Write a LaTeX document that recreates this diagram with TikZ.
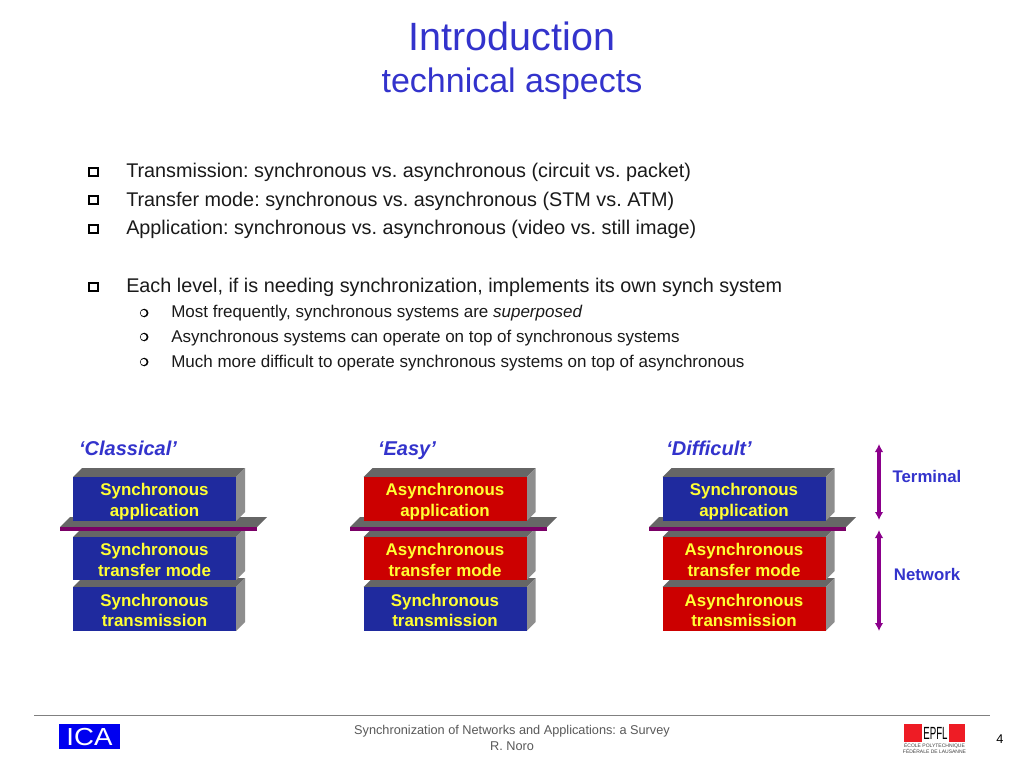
\documentclass[tikz,border=0pt]{standalone}
\usepackage{fontspec}
\setmainfont{Liberation Sans}
\frenchspacing
\usetikzlibrary{arrows.meta,calc}
\definecolor{titleblue}{HTML}{3333CC}
\definecolor{boxblue}{HTML}{1F2A9E}
\definecolor{boxred}{HTML}{CC0000}
\definecolor{boxyellow}{HTML}{FFFF33}
\definecolor{platepurple}{HTML}{7A0066}
\definecolor{arrowpurple}{HTML}{8B008B}
\definecolor{topgray}{HTML}{666666}
\definecolor{sidegray}{HTML}{8E8E8E}
\definecolor{bodyink}{HTML}{1A1A1A}
\definecolor{icablue}{HTML}{0000F0}
\definecolor{epflred}{HTML}{EE1C25}
\tikzset{
  x=0.75pt,y=-0.75pt,
  titlea/.style={text=titleblue,font=\fontsize{29.6}{34}\selectfont,inner sep=0pt},
  titleb/.style={text=titleblue,font=\fontsize{25.5}{30}\selectfont,inner sep=0pt},
  bodytxt/.style={text=bodyink,anchor=west,inner sep=0pt,font=\fontsize{14.85}{17}\selectfont},
  subtxt/.style={text=bodyink,anchor=west,inner sep=0pt,font=\fontsize{12.75}{15}\selectfont},
  bsq/.style={draw=black,line width=1.4pt,fill=white,inner sep=0pt,minimum width=6.2pt,minimum height=6.2pt},
  bcishadow/.style={fill=black,circle,inner sep=0pt,minimum size=6.4pt},
  bcihole/.style={fill=white,circle,inner sep=0pt,minimum size=4.5pt},
  headtxt/.style={text=titleblue,inner sep=0pt,anchor=base,font=\fontsize{15}{18}\selectfont\bfseries\itshape},
  sidetxt/.style={text=titleblue,inner sep=0pt,font=\fontsize{12.6}{15}\selectfont\bfseries},
  layerbox/.style={inner sep=0pt,minimum width=122.25pt},
  layertxt/.style={inner sep=0pt,align=center,text=boxyellow,font=\fontsize{12.7}{15.6}\selectfont\bfseries},
  bluebox/.style={layerbox,fill=boxblue},
  redbox/.style={layerbox,fill=boxred},
  dblarrow/.style={draw=arrowpurple,line width=2.6pt,{Latex[length=6pt,width=6.5pt]}-{Latex[length=6pt,width=6.5pt]}},
  foot/.style={text=black!65,inner sep=0pt,font=\fontsize{9.55}{11}\selectfont},
}
% \layer{name}{style}{centre x}{top y}{bottom y}{text y}{depth}{text}
\newcommand{\layer}[8]{%
  \fill[topgray] ($(#3,#4)+(-81.5,0)$) -- ++(#7,-#7) -- ($(#3,#4)+(81.5+#7,-#7)$) -- ($(#3,#4)+(81.5,0)$) -- cycle;
  \fill[sidegray] ($(#3,#4)+(81.5,0)$) -- ++(#7,-#7) -- ($(#3,#5)+(81.5+#7,-#7)$) -- ($(#3,#5)+(81.5,0)$) -- cycle;
  \node[#2,minimum height={(#5-#4)*0.75pt}] (#1) at (#3,{(#4+#5)/2}) {};
  \node[layertxt] (#1t) at (#3,#6) {#8};
}
% \plate{name}{left x}
\newcommand{\plate}[2]{%
  \fill[topgray] (#2,527) -- (#2+10,517) -- (#2+207,517) -- (#2+197,527) -- cycle;
  \node[fill=platepurple,inner sep=0pt,minimum width=147.75pt,minimum height=3pt] (#1) at (#2+98.5,529) {};
}
\begin{document}
\begin{tikzpicture}
\useasboundingbox (0,0) rectangle (1024,768);
\fill[white] (0,0) rectangle (1024,768);
% title
\node[titlea] (t1) at (512,36) {Introduction};
\node[titleb] (t2) at (512,84) {technical aspects};
% bullets
\node[bsq] (b1) at (93.5,172) {};
\node[bsq] (b2) at (93.5,200) {};
\node[bsq] (b3) at (93.5,229) {};
\node[bsq] (b4) at (93.5,287) {};
\node[bodytxt] (l1) at (126,172) {Transmission: synchronous vs. asynchronous (circuit vs. packet)};
\node[bodytxt] (l2) at (126,201) {Transfer mode: synchronous vs. asynchronous (STM vs. ATM)};
\node[bodytxt] (l3) at (126,229) {Application: synchronous vs. asynchronous (video vs. still image)};
\node[bodytxt] (l4) at (126,287) {Each level, if is needing synchronization, implements its own synch system};
\foreach \n/\yy in {c1/313,c2/337,c3/362}{
  \node[bcishadow] (\n s) at (144.2,\yy) {};
  \node[bcihole] (\n) at (143.6,\yy) {};
}
\node[subtxt] (s1) at (171,313) {Most frequently, synchronous systems are \textit{superposed}};
\node[subtxt] (s2) at (171,338) {Asynchronous systems can operate on top of synchronous systems};
\node[subtxt] (s3) at (171,363) {Much more difficult to operate synchronous systems on top of asynchronous};
% column heads
\node[headtxt] (h1) at (128,455) {‘Classical’};
\node[headtxt] (h2) at (407,455) {‘Easy’};
\node[headtxt] (h3) at (709,455) {‘Difficult’};
% column 1
\layer{a3}{bluebox}{154.5}{587}{631}{610.5}{9}{Synchronous\\transmission}
\layer{a2}{bluebox}{154.5}{537}{580}{560}{9}{Synchronous\\transfer mode}
\plate{pa}{60}
\layer{a1}{bluebox}{154.5}{477}{521}{501.5}{9}{Synchronous\\application}
% column 2
\layer{m3}{bluebox}{445}{587}{631}{610.5}{9}{Synchronous\\transmission}
\layer{m2}{redbox}{445}{537}{580}{560}{9}{Asynchronous\\transfer mode}
\plate{pb}{350}
\layer{m1}{redbox}{445}{477}{521}{501.5}{9}{Asynchronous\\application}
% column 3
\layer{r3}{redbox}{744}{587}{631}{610.5}{9}{Asynchronous\\transmission}
\layer{r2}{redbox}{744}{537}{580}{560}{9}{Asynchronous\\transfer mode}
\plate{pc}{649}
\layer{r1}{bluebox}{744}{477}{521}{501.5}{9}{Synchronous\\application}
% side arrows
\coordinate (ta) at (879,444);
\coordinate (tb) at (879,520);
\coordinate (na) at (879,530);
\coordinate (nb) at (879,631);
\draw[dblarrow] (ta) -- (tb);
\draw[dblarrow] (na) -- (nb);
\node[sidetxt] (st) at (927,476) {Terminal};
\node[sidetxt] (sn) at (927,574) {Network};
% footer
\draw[draw=black!50,line width=0.75pt] (34,715.5) -- (990,715.5);
\node[fill=icablue,inner sep=0pt,minimum width=45.75pt,minimum height=18.75pt] (ica) at (89.5,736.5) {};
\node[text=white,inner sep=0pt,font=\fontsize{18.5}{18.5}\selectfont] (icat) at (89.5,737) {\scalebox{1.12}[1]{ICA}};
\node[foot] (f1) at (512,731) {Synchronization of Networks and Applications: a Survey};
\node[foot] (f2) at (512,746) {R. Noro};
\node[inner sep=0pt,font=\fontsize{9.5}{11}\selectfont] (pg) at (1000,739.5) {4};
% EPFL logo
\fill[epflred] (904,724) rectangle (965,742);
\node[fill=white,inner sep=0pt,minimum width=20.25pt,minimum height=13.5pt] (ep) at (935.5,733) {};
\node[inner sep=0pt,text=black,font=\fontsize{11}{11}\selectfont] (ept) at (935.5,733) {\scalebox{0.66}[1.2]{EPFL}};
\node[inner sep=0pt,align=center,text=black!75,font=\fontsize{3.75}{4.4}\selectfont] (epn) at (934.5,748.5) {ÉCOLE POLYTECHNIQUE\\FÉDÉRALE DE LAUSANNE};
\end{tikzpicture}
\end{document}
